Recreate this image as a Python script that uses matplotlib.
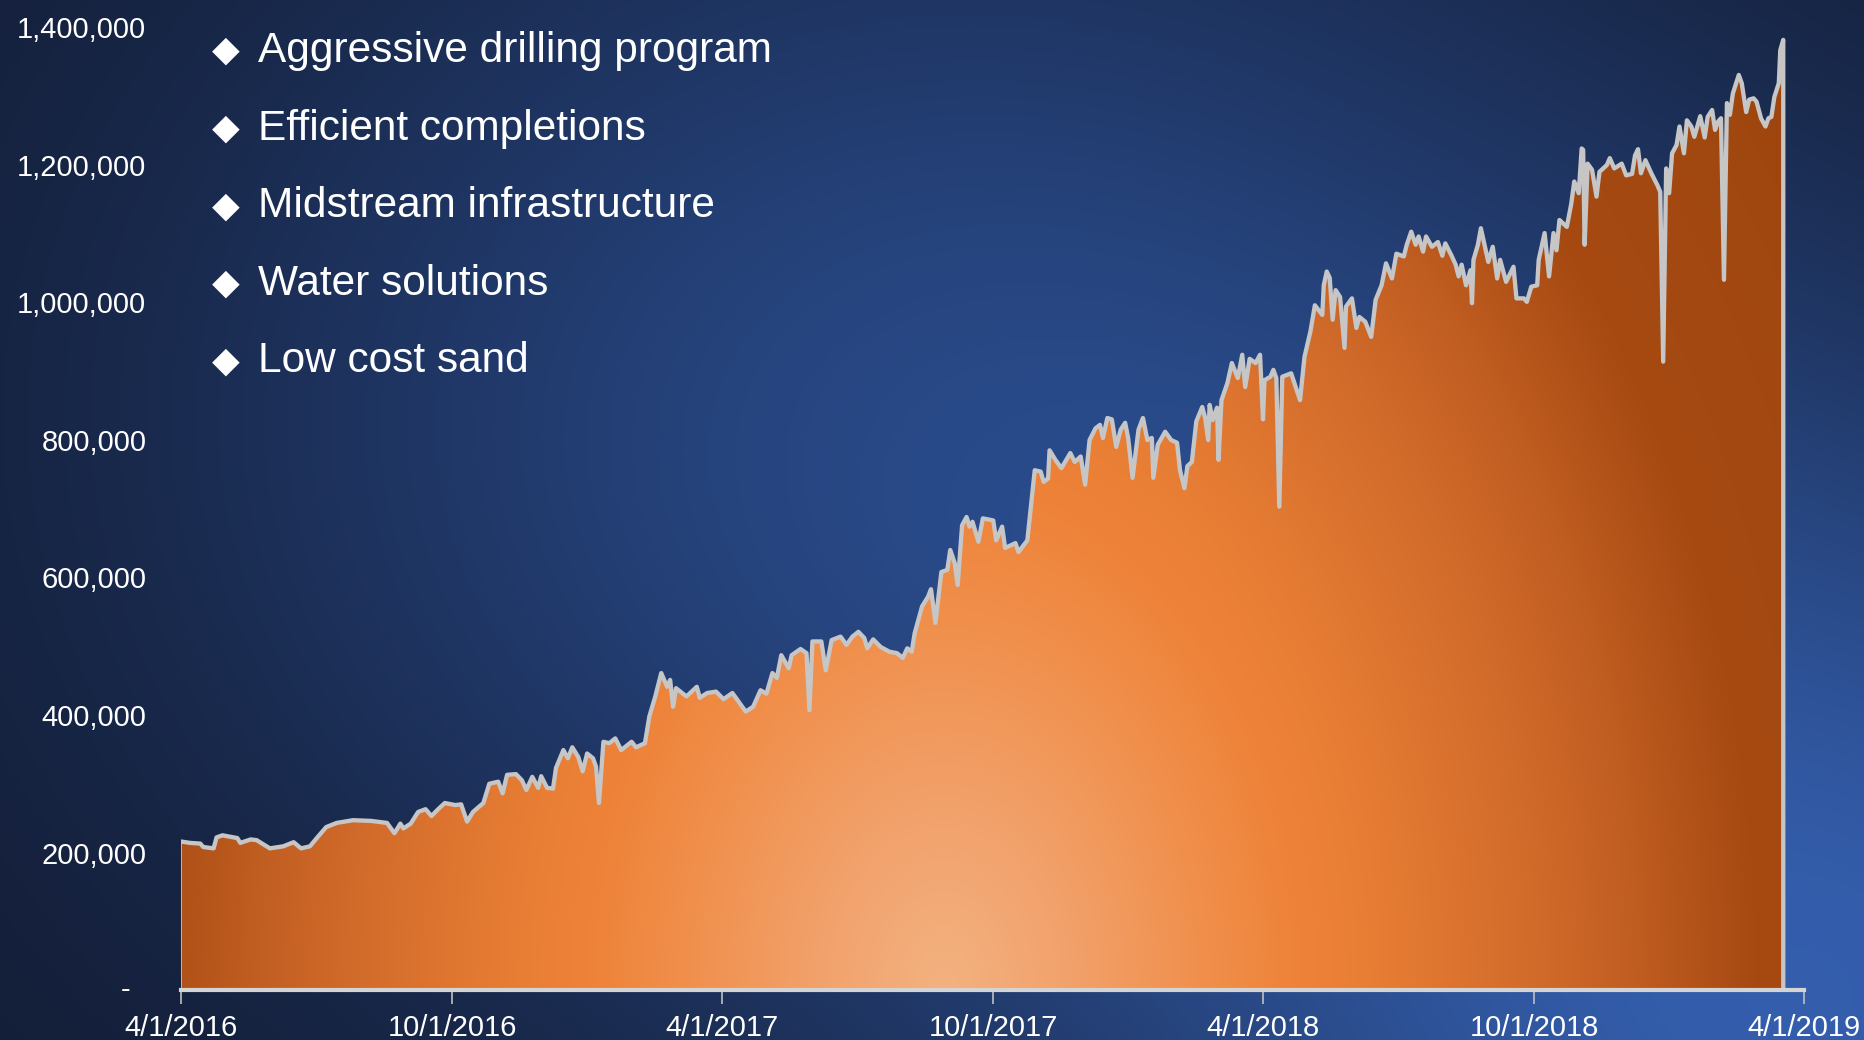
import matplotlib
matplotlib.use("Agg")
import matplotlib.pyplot as plt
from matplotlib.colors import to_rgb
import numpy as np

plt.rcParams.update({"font.family": ["Liberation Sans", "DejaVu Sans"]})

# daily volume: days since 4/1/2016, value in thousands
day_offset = [
    0, 6, 13, 15, 22, 24, 28, 38, 40, 47, 51, 60, 69, 76, 81, 87, 92, 98, 105,
    116, 128, 139, 144, 148, 150, 155, 160, 165, 169, 173, 178, 185, 189, 193,
    197, 204, 208, 214, 217, 220, 226, 230, 233, 237, 241, 243, 247, 251, 253,
    258, 261, 264, 268, 271, 274, 278, 280, 282, 285, 289, 293, 297, 304, 307,
    313, 316, 320, 324, 328, 330, 332, 334, 341, 348, 350, 355, 361, 366, 372,
    375, 381, 386, 391, 395, 399, 402, 405, 410, 412, 418, 422, 424, 426, 432,
    435, 439, 445, 449, 453, 457, 461, 463, 467, 472, 478, 483, 487, 490, 493,
    495, 500, 504, 506, 509, 513, 517, 519, 522, 524, 527, 530, 532, 534, 538,
    541, 548, 550, 554, 556, 563, 565, 571, 576, 580, 582, 585, 586, 590, 594,
    600, 603, 607, 610, 613, 617, 620, 622, 625, 628, 631, 634, 637, 639, 642,
    646, 649, 652, 655, 656, 659, 664, 668, 672, 674, 677, 679, 682, 685, 689,
    691, 693, 694, 696, 699, 700, 702, 706, 709, 713, 716, 718, 721, 725, 728,
    730, 731, 735, 737, 739, 741, 743, 749, 755, 758, 762, 765, 770, 771, 773,
    775, 777, 779, 782, 785, 786, 790, 793, 795, 799, 803, 806, 810, 813, 817,
    820, 825, 827, 830, 833, 835, 838, 840, 844, 848, 851, 853, 857, 860, 862,
    864, 867, 870, 871, 872, 875, 877, 880, 882, 885, 888, 890, 894, 899, 901,
    906, 908, 911, 915, 916, 920, 923, 926, 928, 930, 935, 938, 940, 943, 945,
    946, 947, 949, 952, 955, 957, 962, 964, 967, 972, 975, 979, 981, 983, 985,
    988, 992, 996, 998, 1000, 1002, 1004, 1006, 1009, 1011, 1014, 1016, 1019,
    1021, 1025, 1028, 1030, 1033, 1035, 1037, 1039, 1041, 1043, 1045, 1047,
    1051, 1053, 1056, 1058, 1061, 1063, 1066, 1069, 1071, 1073, 1075, 1078,
    1079, 1081,
]
volume_k = [
    216, 214, 213, 208, 206, 222, 225, 221, 214, 219, 218, 206, 209, 215, 206,
    209, 222, 237, 243, 247, 246, 243, 228, 242, 235, 242, 259, 263, 253, 262,
    272, 269, 270, 245, 259, 272, 300, 303, 286, 313, 314, 305, 291, 310, 294,
    311, 294, 293, 323, 349, 337, 353, 339, 318, 344, 337, 325, 272, 361, 359,
    366, 349, 361, 353, 359, 398, 427, 461, 441, 451, 412, 439, 427, 441, 425,
    432, 434, 423, 432, 423, 405, 412, 436, 431, 461, 454, 487, 468, 487, 496,
    490, 407, 507, 507, 465, 509, 514, 502, 514, 521, 512, 497, 510, 499, 492,
    490, 483, 497, 492, 519, 558, 572, 583, 534, 608, 611, 640, 621, 589, 676,
    688, 674, 681, 652, 686, 683, 654, 674, 643, 650, 637, 654, 756, 754, 739,
    744, 785, 771, 759, 781, 768, 776, 735, 800, 817, 822, 803, 832, 830, 790,
    815, 825, 803, 745, 815, 832, 800, 803, 745, 793, 812, 800, 796, 756, 730,
    762, 768, 827, 848, 832, 800, 851, 829, 847, 771, 858, 883, 912, 890, 924,
    877, 918, 912, 924, 830, 887, 892, 902, 890, 703, 892, 897, 858, 921, 958,
    996, 982, 1025, 1045, 1036, 975, 1018, 1008, 934, 994, 1006, 963, 979, 972,
    950, 1004, 1025, 1057, 1035, 1071, 1067, 1084, 1103, 1084, 1096, 1074,
    1096, 1081, 1088, 1068, 1086, 1069, 1055, 1038, 1055, 1025, 1047, 999,
    1062, 1084, 1108, 1079, 1059, 1081, 1035, 1062, 1030, 1052, 1006, 1006,
    1001, 1023, 1025, 1062, 1101, 1038, 1101, 1076, 1120, 1110, 1144, 1176,
    1159, 1224, 1222, 1084, 1202, 1193, 1154, 1190, 1200, 1210, 1195, 1202,
    1185, 1187, 1214, 1223, 1188, 1207, 1188, 1171, 1161, 914, 1195, 1159,
    1217, 1229, 1256, 1217, 1265, 1256, 1241, 1271, 1240, 1270, 1280, 1251,
    1263, 1268, 1033, 1290, 1273, 1304, 1331, 1319, 1277, 1295, 1297, 1292,
    1268, 1256, 1268, 1270, 1299, 1319, 1367, 1382,
]

xtick_dates = ["2016-04-01", "2016-10-01", "2017-04-01", "2017-10-01",
               "2018-04-01", "2018-10-01", "2019-04-01"]
xtick_labels = ["4/1/2016", "10/1/2016", "4/1/2017", "10/1/2017",
                "4/1/2018", "10/1/2018", "4/1/2019"]
ytick_values = [0, 200000, 400000, 600000, 800000, 1000000, 1200000, 1400000]
ytick_labels = ["", "200,000", "400,000", "600,000", "800,000", "1,000,000",
                "1,200,000", "1,400,000"]
zero_label = "-"
bullets = ["Aggressive drilling program", "Efficient completions",
           "Midstream infrastructure", "Water solutions", "Low cost sand"]

dates = np.datetime64("2016-04-01") + np.array(day_offset).astype("timedelta64[D]")
values = np.array(volume_k) * 1000.0
xt = np.array(xtick_dates, dtype="datetime64[D]")


def ramp(t, stops):
    pos = [p for p, _ in stops]
    cols = np.array([to_rgb(c) for _, c in stops])
    return np.stack([np.interp(t, pos, cols[:, i]) for i in range(3)], axis=-1)


fig = plt.figure(figsize=(18.64, 10.4), dpi=100)

# ---------------- navy background with soft glows
bg = fig.add_axes([0, 0, 1, 1], zorder=-5)
yy, xx = np.mgrid[0:1:260j, 0:1:466j]
g1 = np.exp(-(((xx - 0.5) / 0.42) ** 2 + ((yy - 0.4) / 0.6) ** 2))
g2 = np.exp(-(((xx - 1.0) / 0.4) ** 2 + ((yy - 1.0) / 0.6) ** 2))
dark = np.array([18, 27, 50]) / 255
mid = np.array([38, 68, 126]) / 255
bright = np.array([50, 90, 165]) / 255
img = dark + g1[..., None] * (mid - dark) + g2[..., None] * (bright - dark)
bg.imshow(np.clip(img, 0, 1), extent=[0, 1, 0, 1], aspect="auto",
          interpolation="bilinear")
bg.axis("off")

# ---------------- main area chart
ax = fig.add_axes([181 / 1864, 50 / 1040, 1623 / 1864, 962.5 / 1040])
ax.patch.set_alpha(0)

fill = ax.fill_between(dates, 0, values, facecolor="none", edgecolor="none")
gy, gx = np.mgrid[0:1:300j, 0:1:600j]
r = np.sqrt(((gx - 0.47) / 0.5) ** 2 + (gy / 1.2) ** 2)
fill_img = ramp(r, [(0.0, "#f3b280"), (0.14, "#f2a36e"), (0.34, "#f08d48"),
                    (0.44, "#ee8238"), (0.54, "#e77d34"), (0.74, "#d06a2a"),
                    (0.86, "#bf5c20"), (1.0, "#a64a12"), (1.4, "#9c440e")])
im = ax.imshow(fill_img, extent=[0, 1, 0, 1], transform=ax.transAxes,
               origin="lower", aspect="auto", interpolation="bilinear",
               zorder=1)
im.set_clip_path(fill.get_paths()[0], transform=ax.transData)

ax.plot(np.append(dates, dates[-1]), np.append(values, 0), color="#c6c6c6",
        lw=3.1, solid_joinstyle="round", zorder=3)
ax.plot([dates[0], dates[0]], [0, values[0]], color="#c6c6c6", lw=1.2,
        zorder=3)

ax.set_xlim(xt[0], xt[-1])
ax.set_ylim(0, 1400000)
ax.set_xticks(xt)
ax.set_xticklabels(xtick_labels)
ax.set_yticks(ytick_values)
ax.set_yticklabels(ytick_labels)
ax.tick_params(axis="x", colors="white", labelsize=21, length=10, width=1.2,
               pad=7, color="#c0c0c0")
ax.tick_params(axis="y", colors="white", labelsize=21, length=0, pad=25)
for s in ("top", "right", "left"):
    ax.spines[s].set_visible(False)
ax.spines["bottom"].set_color("#d4d4d4")
ax.spines["bottom"].set_linewidth(3)
ax.spines["bottom"].set_zorder(4)
ax.text(-0.031, 0, zero_label, transform=ax.get_yaxis_transform(),
        color="white", fontsize=21, ha="right", va="center")

# ---------------- bullet list
for i, label in enumerate(bullets):
    yc = 1 - (51 + 77.6 * i) / 1040
    fig.text(226 / 1864, yc, "\u25c6", color="white", fontsize=26,
             family="DejaVu Sans", ha="center", va="center")
    fig.text(258 / 1864, yc, label, color="white", fontsize=30.5,
             ha="left", va="center")

fig.savefig("out.png", dpi=100)
